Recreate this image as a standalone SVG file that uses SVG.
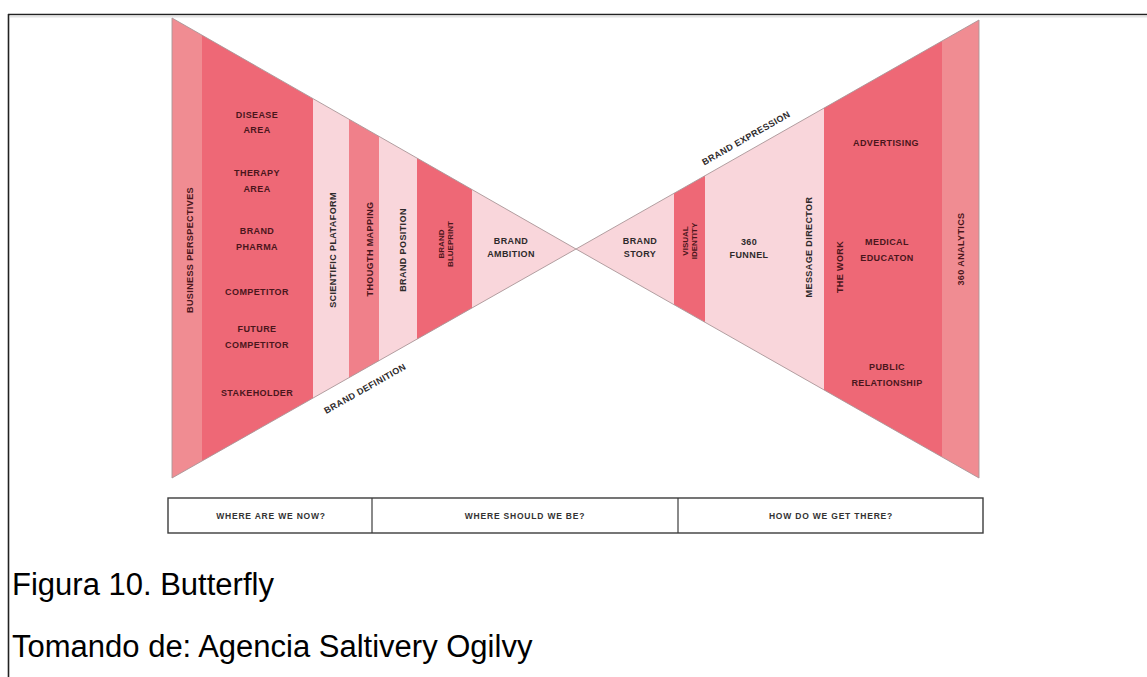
<svg xmlns="http://www.w3.org/2000/svg" width="1147" height="677" viewBox="0 0 1147 677">
  <style>
    .main { fill: #ee6876; }
    .soft { fill: #f08c92; }
    .mid { fill: #f0808a; }
    .pale { fill: #f9d6db; }
    .lbl { font-family: "Liberation Sans", Arial, sans-serif; font-weight: bold; font-size: 9px; letter-spacing: 0.4px; text-anchor: middle; }
    .dk { fill: #4a161c; }
    .gr { fill: #2e2a2b; }
    .edge { fill: none; stroke: #a99597; stroke-width: 0.9; stroke-linejoin: miter; }
    .tab { fill: #ffffff; stroke: #3c3c3c; stroke-width: 1.4; }
    .tabtxt { font-family: "Liberation Sans", Arial, sans-serif; font-weight: bold; font-size: 8.5px; letter-spacing: 0.8px; text-anchor: middle; fill: #333333; }
    .cap { font-family: "Liberation Sans", Arial, sans-serif; font-size: 31px; fill: #000000; }
  </style>
  <defs>
    <clipPath id="leftWing"><polygon points="172,18 576,249 172,478"/></clipPath>
    <clipPath id="rightWing"><polygon points="979,20 576,249 979,478"/></clipPath>
  </defs>

  <rect x="0" y="0" width="1147" height="677" fill="#ffffff"/>

  <!-- page frame -->
  <g id="frame">
    <line x1="8" y1="14.5" x2="1147" y2="14.5" stroke="#222" stroke-width="1.6"/>
    <line x1="8.5" y1="14" x2="8.5" y2="677" stroke="#222" stroke-width="1.6"/>
    <line x1="10" y1="16.5" x2="1147" y2="16.5" stroke="#e4e4e4" stroke-width="2"/>
  </g>

  <!-- left wing: brand definition -->
  <g id="left-wing" clip-path="url(#leftWing)">
    <g id="business-perspectives">
      <rect class="soft" x="170" y="0" width="32" height="500"/>
    </g>
    <g id="analysis">
      <rect class="main" x="202" y="0" width="111" height="500"/>
    </g>
    <g id="scientific-plataform">
      <rect class="pale" x="313" y="0" width="36" height="500"/>
    </g>
    <g id="thougth-mapping">
      <rect class="mid" x="349" y="0" width="30" height="500"/>
    </g>
    <g id="brand-position">
      <rect class="pale" x="379" y="0" width="38" height="500"/>
    </g>
    <g id="brand-blueprint">
      <rect class="main" x="417" y="0" width="55" height="500"/>
    </g>
    <g id="brand-ambition">
      <rect class="pale" x="472" y="0" width="106" height="500"/>
    </g>
  </g>

  <!-- right wing: brand expression -->
  <g id="right-wing" clip-path="url(#rightWing)">
    <g id="brand-story">
      <rect class="pale" x="574" y="0" width="100" height="500"/>
    </g>
    <g id="visual-identity">
      <rect class="main" x="674" y="0" width="31" height="500"/>
    </g>
    <g id="funnel-director">
      <rect class="pale" x="705" y="0" width="119" height="500"/>
    </g>
    <g id="the-work">
      <rect class="main" x="824" y="0" width="118" height="500"/>
    </g>
    <g id="analytics">
      <rect class="soft" x="942" y="0" width="40" height="500"/>
    </g>
  </g>

  <!-- wing outlines -->
  <g id="connectors">
    <polygon class="edge" points="172,18 576,249 172,478"/>
    <polygon class="edge" points="979,20 576,249 979,478"/>
  </g>

  <!-- labels, left wing -->
  <g id="left-labels">
    <text class="lbl dk" transform="translate(190,250) rotate(-90)" y="3.2">BUSINESS PERSPECTIVES</text>
    <text class="lbl dk" x="257" y="118">DISEASE</text>
    <text class="lbl dk" x="257" y="133">AREA</text>
    <text class="lbl dk" x="257" y="176">THERAPY</text>
    <text class="lbl dk" x="257" y="192">AREA</text>
    <text class="lbl dk" x="257" y="234">BRAND</text>
    <text class="lbl dk" x="257" y="250">PHARMA</text>
    <text class="lbl dk" x="257" y="295">COMPETITOR</text>
    <text class="lbl dk" x="257" y="332">FUTURE</text>
    <text class="lbl dk" x="257" y="348">COMPETITOR</text>
    <text class="lbl dk" x="257" y="396">STAKEHOLDER</text>
    <text class="lbl gr" transform="translate(333,250) rotate(-90)" y="3.2">SCIENTIFIC PLATAFORM</text>
    <text class="lbl dk" transform="translate(370,249) rotate(-90)" y="3.2">THOUGTH MAPPING</text>
    <text class="lbl gr" transform="translate(403,250) rotate(-90)" y="3.2">BRAND POSITION</text>
    <g transform="translate(445.5,244) rotate(-90)">
      <text class="lbl dk" style="font-size:8px;letter-spacing:0" y="-1.5">BRAND</text>
      <text class="lbl dk" style="font-size:8px;letter-spacing:0" y="7.5">BLUEPRINT</text>
    </g>
    <text class="lbl gr" x="511" y="244">BRAND</text>
    <text class="lbl gr" x="511" y="257">AMBITION</text>
    <text class="lbl gr" transform="translate(365,388.5) rotate(-29.5)" y="3.2">BRAND DEFINITION</text>
  </g>

  <!-- labels, right wing -->
  <g id="right-labels">
    <text class="lbl gr" transform="translate(746,138) rotate(-29.6)" y="3.2">BRAND EXPRESSION</text>
    <text class="lbl gr" x="640" y="244">BRAND</text>
    <text class="lbl gr" x="640" y="257">STORY</text>
    <g transform="translate(689,241) rotate(-90)">
      <text class="lbl dk" style="font-size:8px;letter-spacing:0" y="-1.5">VISUAL</text>
      <text class="lbl dk" style="font-size:8px;letter-spacing:0" y="7.5">IDENTITY</text>
    </g>
    <text class="lbl gr" x="749" y="245">360</text>
    <text class="lbl gr" x="749" y="258">FUNNEL</text>
    <text class="lbl gr" transform="translate(809,247) rotate(-90)" y="3.2">MESSAGE DIRECTOR</text>
    <text class="lbl dk" transform="translate(840,267) rotate(-90)" y="3.2">THE WORK</text>
    <text class="lbl dk" x="886" y="146">ADVERTISING</text>
    <text class="lbl dk" x="887" y="245">MEDICAL</text>
    <text class="lbl dk" x="887" y="261">EDUCATON</text>
    <text class="lbl dk" x="887" y="370">PUBLIC</text>
    <text class="lbl dk" x="887" y="386">RELATIONSHIP</text>
    <text class="lbl dk" transform="translate(961,249) rotate(-90)" y="3.2">360 ANALYTICS</text>
  </g>

  <!-- question strip -->
  <g id="questions">
    <rect class="tab" x="168" y="498" width="815" height="35"/>
    <line x1="372" y1="498" x2="372" y2="533" stroke="#3c3c3c" stroke-width="1.2"/>
    <line x1="678" y1="498" x2="678" y2="533" stroke="#3c3c3c" stroke-width="1.2"/>
    <text class="tabtxt" x="271" y="519">WHERE ARE WE NOW?</text>
    <text class="tabtxt" x="525" y="519">WHERE SHOULD WE BE?</text>
    <text class="tabtxt" x="831" y="519">HOW DO WE GET THERE?</text>
  </g>

  <!-- caption -->
  <g id="caption">
    <text class="cap" x="12" y="595">Figura 10. Butterfly</text>
    <text class="cap" x="12" y="657">Tomando de: Agencia Saltivery Ogilvy</text>
  </g>
</svg>
